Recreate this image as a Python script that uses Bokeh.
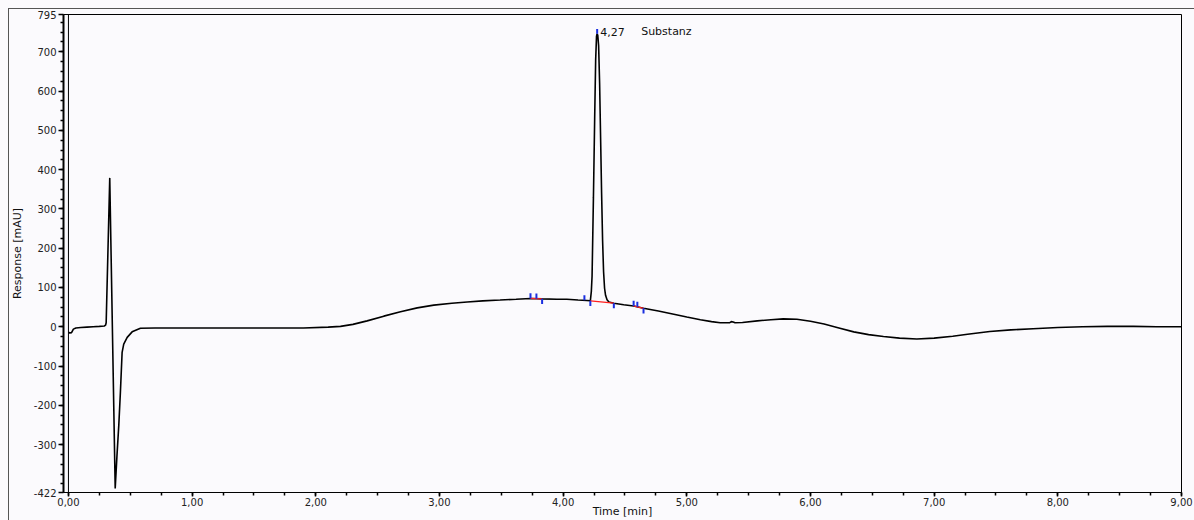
import numpy as np
from bokeh.plotting import figure
from bokeh.models import FixedTicker, Span, Range1d, ColumnDataSource
from bokeh.embed import file_html
from bokeh.resources import INLINE
from bokeh.core.properties import value

# ---- data ----
time_min = [0.000, 0.010, 0.025, 0.040, 0.060, 0.100, 0.150, 0.200, 0.250, 0.290,
            0.300, 0.305, 0.334, 0.378, 0.392, 0.407, 0.420, 0.434, 0.447, 0.475,
            0.515, 0.582, 0.700, 1.000, 1.500, 1.900, 2.100, 2.200, 2.300, 2.415,
            2.550, 2.685, 2.820, 2.954, 3.100, 3.224, 3.350, 3.490, 3.620, 3.736,
            3.830, 3.950, 4.030, 4.120, 4.190, 4.220, 4.228, 4.234, 4.245, 4.255,
            4.263, 4.270, 4.275, 4.280, 4.287, 4.295, 4.303, 4.311, 4.319, 4.327,
            4.335, 4.343, 4.355, 4.370, 4.410, 4.490, 4.570, 4.650, 4.770, 4.895,
            5.000, 5.110, 5.200, 5.270, 5.330, 5.345, 5.360, 5.375, 5.390, 5.450,
            5.570, 5.680, 5.780, 5.890, 6.000, 6.110, 6.230, 6.350, 6.470, 6.590,
            6.720, 6.860, 7.000, 7.150, 7.270, 7.450, 7.620, 7.800, 8.000, 8.200,
            8.400, 8.610, 8.800, 9.000]
response_mau = [-14, -16, -15, -6, -3, -2, -1, 0, 1, 2,
                4, 10, 379, -412, -330, -251, -167, -65, -44, -27,
                -13, -4, -3, -3, -3, -3, -1, 1, 6, 15,
                27, 38, 48, 55, 60, 63, 66, 68, 70, 72,
                71, 70, 70, 68, 67, 66, 90, 129, 330, 530,
                680, 740, 746, 742, 715, 620, 480, 340, 220, 140,
                98, 80, 69, 63, 60, 56, 53, 47, 40, 32,
                25, 18, 13, 10, 10, 10, 13, 12, 10, 11,
                15, 18, 20, 19, 14, 7, -3, -13, -20, -25,
                -29, -31, -29, -24, -19, -12, -8, -5, -2, 0,
                1, 1, 0, 0]

# integration events (blue markers) and baselines (red)
marker_times = [3.736, 3.784, 3.830, 4.172, 4.220, 4.410, 4.570, 4.600, 4.650]
marker_dirs = [1, 1, -1, 1, -1, -1, 1, 1, -1]
baseline_starts = [3.736, 4.220, 4.570]
baseline_ends = [3.830, 4.410, 4.650]

peak_time = 4.27
peak_apex = 746
peak_name = "Substanz"

x_ticks = [0, 1, 2, 3, 4, 5, 6, 7, 8, 9]
y_ticks = [-422, -300, -200, -100, 0, 100, 200, 300, 400, 500, 600, 700, 795]
x_title = "Time [min]"
y_title = "Response [mAU]"

# ---- figure ----
FONT = "DejaVu Sans"
BG = "#fbfafd"

p = figure(width=1194, height=520,
           x_range=Range1d(-0.04, 9.0), y_range=Range1d(-422, 795),
           output_backend="svg", toolbar_location=None,
           min_border_left=63, min_border_right=13,
           min_border_top=14, min_border_bottom=26)
p.background_fill_color = BG
p.border_fill_color = None
p.outline_line_color = "black"
p.outline_line_width = 1
p.grid.visible = False
# outer page frame lines (top and left) like the reference printout
p.styles = {"background": "linear-gradient(#555555,#555555) 8px 8px / 1px 512px no-repeat, "
                          "linear-gradient(#555555,#555555) 8px 8px / 1186px 1px no-repeat, "
                          + BG}

# axes
p.xaxis.ticker = FixedTicker(ticks=x_ticks,
                             minor_ticks=list(np.arange(0, 9.001, 0.25)))
p.xaxis.major_label_overrides = {float(t): f"{t:.2f}".replace(".", ",") for t in x_ticks}
p.yaxis.ticker = FixedTicker(ticks=y_ticks, minor_ticks=list(range(-400, 800, 25)))
p.yaxis.major_label_overrides = {float(t): str(t) for t in y_ticks}

for ax in (p.xaxis[0], p.yaxis[0]):
    ax.major_label_text_font = FONT
    ax.major_label_text_font_size = "10px"
    ax.major_label_text_color = "#222222"
    ax.axis_label_text_font = FONT
    ax.axis_label_text_font_size = "11px"
    ax.axis_label_text_font_style = "normal"
    ax.axis_label_text_color = "#111111"
    ax.major_tick_in = 0
    ax.minor_tick_in = 0
    ax.minor_tick_out = 3
    ax.major_tick_line_width = 1.5
    ax.minor_tick_line_width = 1.5
    ax.major_label_standoff = 2

p.xaxis.axis_label = x_title
p.yaxis.axis_label = y_title
p.yaxis.major_tick_out = 5
p.xaxis.major_tick_out = 4
p.yaxis.axis_line_width = 2
p.xaxis.axis_line_width = 1
p.xaxis.major_label_standoff = 1
p.xaxis.axis_label_standoff = -4
p.yaxis.axis_label_standoff = 7

# frame line at t = 0
p.add_layout(Span(location=0, dimension="height", line_color="black", line_width=1))

# trace
p.line(time_min, response_mau, line_color="black", line_width=1.6)

# red baselines
bs_y0 = np.interp(baseline_starts, time_min, response_mau)
bs_y1 = np.interp(baseline_ends, time_min, response_mau)
p.segment(x0=baseline_starts, y0=bs_y0, x1=baseline_ends, y1=bs_y1,
          line_color="#ff2020", line_width=1.3)

# blue integration markers
m_y0 = np.interp(marker_times, time_min, response_mau)
m_y1 = m_y0 + np.array(marker_dirs) * 13.0
p.segment(x0=marker_times, y0=m_y0, x1=marker_times, y1=m_y1,
          line_color="#1a2ee0", line_width=2)
# apex marker
p.segment(x0=[peak_time + 0.005], y0=[peak_apex], x1=[peak_time + 0.005], y1=[peak_apex + 12],
          line_color="#1a2ee0", line_width=2)

# peak label
src = ColumnDataSource(dict(x=[peak_time + 0.005], y=[peak_apex],
                            t=[f"{peak_time:.2f}".replace(".", ",")], n=[peak_name]))
p.text(x="x", y="y", text="t", source=src, x_offset=3, y_offset=-2,
       text_font=value(FONT), text_font_size="11px", text_color="#111111",
       text_baseline="alphabetic", text_align="left")
p.text(x="x", y="y", text="n", source=src, x_offset=44, y_offset=-2,
       text_font=value(FONT), text_font_size="11px", text_color="#111111",
       text_baseline="alphabetic", text_align="left")

open("out.html", "w").write(file_html(p, INLINE))
